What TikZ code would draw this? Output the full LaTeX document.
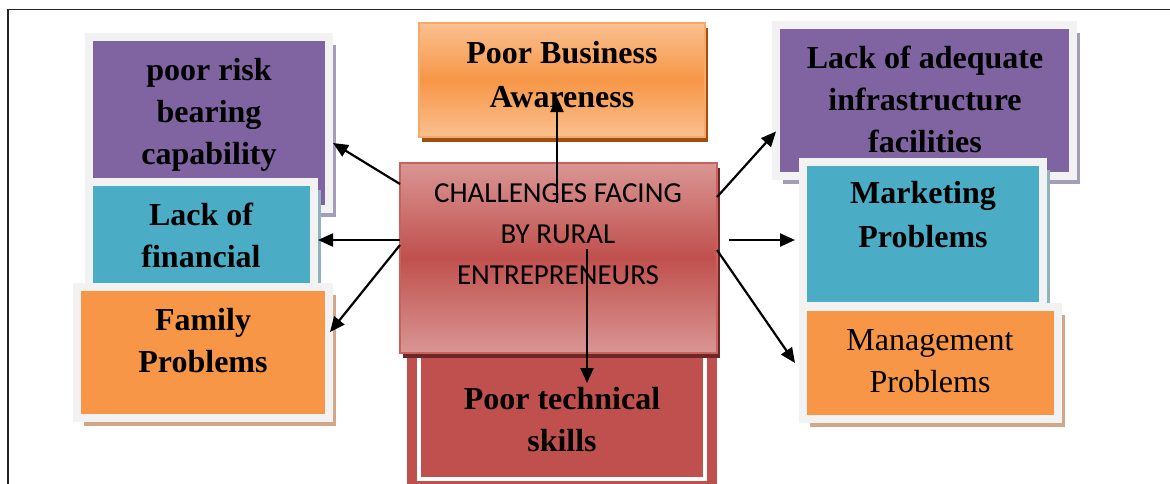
\documentclass[tikz,border=0pt]{standalone}
\usepackage{fontspec}
\setmainfont{Liberation Serif}
\newfontfamily\calibrifont{Carlito}
\usetikzlibrary{arrows.meta,shadows,calc}

\definecolor{boxpurple}{HTML}{8064A2}
\definecolor{boxteal}{HTML}{4BACC6}
\definecolor{boxorange}{HTML}{F79646}
\definecolor{boxred}{HTML}{C0504D}
\definecolor{rimgray}{HTML}{F2F2F2}
\definecolor{shpurple}{HTML}{A59CB8}
\definecolor{shteal}{HTML}{90B2BE}
\definecolor{shorange}{HTML}{D2A687}
\definecolor{lightred}{HTML}{D99694}
\definecolor{shred}{HTML}{6B2826}
\definecolor{lightorange}{HTML}{FAC090}
\definecolor{shbrown}{HTML}{A0500E}

\tikzset{
  rimbox/.style={draw=rimgray, line width=8pt, inner sep=0pt, outer sep=4pt,
    general shadow={fill=#1, shadow xshift=7pt, shadow yshift=-8pt}},
  % anchored on the baseline of the last line
  boxtext/.style={anchor=base, align=center, inner sep=0pt,
    font={\bfseries\fontsize{32}{42}\selectfont}},
  plaintext/.style={anchor=base, align=center, inner sep=0pt,
    font={\fontsize{32}{42}\selectfont}},
  link/.style={line width=2.2pt, -{Triangle[length=15pt,width=13pt]}}
}

\begin{document}
\begin{tikzpicture}[x=1pt,y=-1pt]
\useasboundingbox (0,0) rectangle (1170,483);
\clip (0,0) rectangle (1170,483);

% page frame
\draw[line width=1.5pt, color=black!85] (8,490) -- (8,9.5) -- (1175,9.5);

% left column
\node[rimbox=shpurple, fill=boxpurple, minimum width=240pt, minimum height=172pt] (risk) at (209,123) {};
\node[boxtext] (risktxt) at (209,164) {poor risk\\bearing\\capability};
\node[rimbox=shteal, fill=boxteal, minimum width=225pt, minimum height=109pt] (fin) at (201.5,236.5) {};
\node[boxtext] (fintxt) at (201,267) {Lack of\\financial};
\node[rimbox=shorange, fill=boxorange, minimum width=252pt, minimum height=131pt] (fam) at (203,352.5) {};
\node[boxtext] (famtxt) at (203,372) {Family\\Problems};

% right column
\node[rimbox=shpurple, fill=boxpurple, minimum width=297pt, minimum height=151pt] (infra) at (924.5,100.5) {};
\node[boxtext] (infratxt) at (925,152) {Lack of adequate\\infrastructure\\facilities};
\node[rimbox=shteal, fill=boxteal, minimum width=240pt, minimum height=144pt] (mkt) at (923,234) {};
\node[boxtext, font={\bfseries\fontsize{32}{44}\selectfont}] (mkttxt) at (923,247) {Marketing\\Problems};
\node[rimbox=shorange, fill=boxorange, minimum width=255pt, minimum height=112pt] (mgmt) at (930.5,363) {};
\node[plaintext] (mgmttxt) at (930,392) {Management\\Problems};

% top box
\node[draw={rgb,255:red,249;green,168;blue,107}, line width=2pt, inner sep=0pt,
  minimum width=286pt, minimum height=114pt,
  top color=lightorange, bottom color=lightorange, middle color=boxorange,
  general shadow={fill=shbrown, shadow xshift=3pt, shadow yshift=-5pt}] (biz) at (562,80) {};
\node[boxtext, font={\bfseries\fontsize{32}{44}\selectfont}] (biztxt) at (562,107) {Poor Business\\Awareness};

% bottom box with thick-thin rule
\node[fill=boxred, draw=white, line width=4pt, inner sep=0pt,
  minimum width=286pt, minimum height=134pt,
  preaction={draw=boxred, line width=24pt}] (tech) at (562,412) {};
\node[boxtext] (techtxt) at (562,451) {Poor technical\\skills};

% central box
\node[draw={rgb,255:red,201;green,98;blue,95}, line width=2pt, inner sep=0pt,
  minimum width=317pt, minimum height=190pt,
  top color=lightred, bottom color=lightred, middle color=boxred,
  general shadow={fill=shred, shadow xshift=3pt, shadow yshift=-5pt}] (ctr) at (558.5,258) {};
\node[anchor=base, align=center, inner sep=0pt,
  font={\calibrifont\fontsize{29}{41}\selectfont}] (ctrtxt) at (558,284)
  {CHALLENGES FACING\\BY RURAL\\ENTREPRENEURS};

% connectors
\draw[link] ($(ctr.north west)+(1,22)$) -- ($(risk.east)+(0,20)$);
\draw[link] ($(ctr.west)+(1,-18)$) -- ($(fin.east)+(0,3.5)$);
\draw[link] ($(ctr.west)+(1,-13)$) -- ($(fam.east)+(-3,-20.5)$);
\draw[link] ($(ctr.north)+(-1.5,41)$) -- ($(biz.south)+(-5,-41)$);
\draw[link] ($(ctr.north)+(28.5,87)$) -- ($(tech.north)+(25,40)$);
\draw[link] ($(ctr.north east)+(-1,35)$) -- ($(infra.west)+(4,31)$);
\draw[link] ($(ctr.east)+(11,-18)$) -- ($(mkt.west)+(-4,6)$);
\draw[link] ($(ctr.east)+(-1,-8)$) -- ($(mgmt.west)+(-4,0)$);
\end{tikzpicture}
\end{document}
